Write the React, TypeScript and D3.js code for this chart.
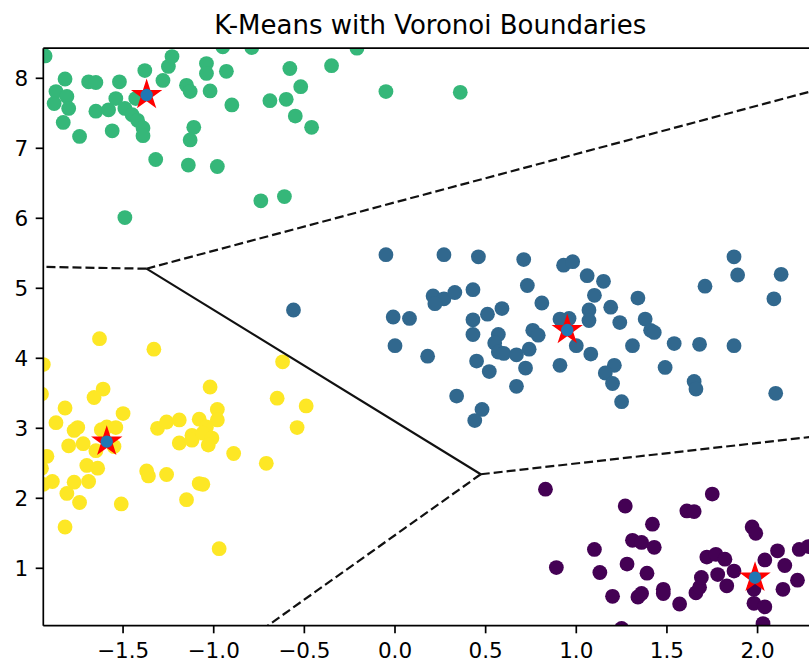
import React from "react";
import * as d3 from "d3";

// ---- Data ----
const clusterColors = ["#440154", "#31688e", "#35b779", "#fde725"];

const cluster0Points: [number, number][] = [
  [0.83, 2.13], [1.27, 1.89], [1.75, 2.06], [1.61, 1.82], [1.65, 1.81], [1.42, 1.63],
  [1.97, 1.59], [1.99, 1.5], [1.31, 1.4], [1.36, 1.37], [1.43, 1.3], [1.1, 1.27],
  [0.89, 1.01], [1.28, 1.06], [1.13, 0.94], [1.39, 0.93], [1.2, 0.6], [1.34, 0.59],
  [1.36, 0.64], [1.48, 0.7], [1.48, 0.64], [1.57, 0.49], [1.66, 0.65], [1.68, 0.73],
  [1.69, 0.87], [1.72, 1.16], [1.77, 1.2], [1.82, 1.13], [1.78, 0.91], [1.83, 0.75],
  [1.87, 0.96], [1.98, 0.7], [1.98, 0.5], [2.04, 0.45], [2.03, 0.21], [2.04, 1.12],
  [2.11, 1.25], [2.15, 1.04], [2.14, 0.7], [2.23, 1.27], [2.22, 0.83], [2.28, 1.31],
  [1.25, 0.14],
];

const cluster1Points: [number, number][] = [
  [-0.05, 5.48], [0.27, 5.48], [0.46, 5.45], [0.71, 5.41], [0.93, 5.33], [0.98, 5.38],
  [1.06, 5.18], [1.15, 5.1], [0.73, 5.04], [0.21, 4.89], [0.27, 4.85], [0.33, 4.94],
  [0.43, 4.98], [0.22, 4.78], [0.81, 4.79], [0.59, 4.71], [0.51, 4.63], [0.43, 4.55],
  [0.43, 4.34], [-0.01, 4.59], [0.08, 4.57], [0.0, 4.18], [0.18, 4.03], [0.57, 4.34],
  [0.55, 4.22], [0.57, 4.09], [0.6, 4.07], [0.67, 4.05], [0.74, 4.13], [0.76, 4.4],
  [0.79, 4.33], [0.45, 3.96], [0.52, 3.81], [0.72, 3.86], [0.67, 3.6], [0.34, 3.46],
  [0.48, 3.27], [0.44, 3.11], [0.91, 4.56], [0.96, 4.57], [1.07, 4.69], [1.07, 4.54],
  [1.1, 4.9], [1.19, 4.73], [1.24, 4.51], [1.34, 4.86], [1.38, 4.56], [1.41, 4.4],
  [1.43, 4.37], [1.0, 4.18], [1.08, 4.06], [0.91, 3.9], [1.31, 4.18], [1.21, 3.9],
  [1.16, 3.79], [1.2, 3.64], [1.25, 3.38], [1.49, 3.87], [1.54, 4.21], [1.68, 4.2],
  [1.65, 3.67], [1.66, 3.56], [1.71, 5.03], [1.87, 5.45], [1.89, 5.19], [1.87, 4.18],
  [2.13, 5.2], [2.09, 4.85], [2.1, 3.5], [-0.56, 4.69],
];

const cluster2Points: [number, number][] = [
  [-1.93, 8.32], [-1.82, 7.99], [-1.87, 7.81], [-1.88, 7.64], [-1.81, 7.74], [-1.8, 7.57],
  [-1.83, 7.37], [-1.74, 7.17], [-1.69, 7.95], [-1.65, 7.94], [-1.65, 7.53], [-1.58, 7.55],
  [-1.56, 7.25], [-1.52, 7.95], [-1.54, 7.71], [-1.49, 7.57], [-1.45, 7.48], [-1.42, 7.4],
  [-1.39, 7.29], [-1.39, 7.18], [-1.43, 7.71], [-1.38, 8.11], [-1.28, 7.97], [-1.25, 8.17],
  [-1.23, 8.31], [-1.32, 6.84], [-1.49, 6.01], [-1.15, 7.9], [-1.13, 7.81], [-1.11, 7.3],
  [-1.13, 7.12], [-1.14, 6.76], [-1.04, 8.21], [-1.04, 8.07], [-1.02, 7.82], [-0.98, 6.74],
  [-0.95, 8.45], [-0.93, 8.1], [-0.9, 7.62], [-0.79, 8.44], [-0.74, 6.25], [-0.69, 7.68],
  [-0.61, 6.31], [-0.6, 7.7], [-0.58, 8.14], [-0.55, 7.46], [-0.52, 7.88], [-0.46, 7.3],
  [-0.35, 8.18], [-0.21, 8.43], [-0.05, 7.81], [0.36, 7.8],
];

const cluster3Points: [number, number][] = [
  [-1.94, 3.91], [-1.95, 3.49], [-1.63, 4.28], [-1.33, 4.13], [-1.61, 3.56], [-1.66, 3.44],
  [-1.82, 3.29], [-1.87, 3.08], [-1.75, 3.01], [-1.77, 2.97], [-1.5, 3.21], [-1.59, 3.02],
  [-1.54, 3.01], [-1.62, 2.98], [-1.8, 2.75], [-1.72, 2.78], [-1.65, 2.68], [-1.55, 2.74],
  [-1.92, 2.6], [-1.95, 2.43], [-1.7, 2.47], [-1.64, 2.43], [-1.89, 2.24], [-1.94, 2.2],
  [-1.77, 2.23], [-1.69, 2.24], [-1.81, 2.07], [-1.74, 1.94], [-1.51, 1.92], [-1.82, 1.59],
  [-1.31, 3.0], [-1.26, 3.09], [-1.19, 3.12], [-1.19, 2.79], [-1.12, 2.9], [-1.12, 2.83],
  [-1.08, 3.13], [-1.02, 3.59], [-0.98, 3.27], [-0.98, 3.12], [-1.04, 3.02], [-1.06, 2.93],
  [-1.01, 2.86], [-1.03, 2.76], [-0.89, 2.64], [-1.37, 2.39], [-1.36, 2.32], [-1.26, 2.34],
  [-1.15, 1.98], [-1.08, 2.21], [-1.06, 2.2], [-0.97, 1.28], [-0.71, 2.5], [-0.65, 3.43],
  [-0.62, 3.95], [-0.49, 3.32], [-0.54, 3.01],
];

const clusters = [cluster0Points, cluster1Points, cluster2Points, cluster3Points];

// K-Means centroids (label order 0..3)
const centroids: [number, number][] = [
  [1.986, 0.866],
  [0.95, 4.404],
  [-1.37, 7.761],
  [-1.59, 2.809],
];

const xDomain = [-1.94, 2.33];
const yDomain = [0.18, 8.43];
const xTickValues = [-1.5, -1.0, -0.5, 0.0, 0.5, 1.0, 1.5, 2.0];
const yTickValues = [1, 2, 3, 4, 5, 6, 7, 8];
const titleText = "K-Means with Voronoi Boundaries";

// ---- Layout ----
const W = 809;
const H = 665;
const plotLeft = 43.3;
const plotRight = 817.4;
const plotTop = 48.2;
const plotBottom = 625.7;
const FONT = "'DejaVu Sans', sans-serif";

function computeVoronoiSegments(pts: [number, number][]) {
  const delaunay = d3.Delaunay.from(pts);
  const vor = delaunay.voronoi([-100, -100, 100, 100]);
  const cc = vor.circumcenters;
  const { triangles, halfedges } = delaunay;
  const cx = d3.mean(pts, (p) => p[0]) as number;
  const cy = d3.mean(pts, (p) => p[1]) as number;
  const ptpX = (d3.max(pts, (p) => p[0]) as number) - (d3.min(pts, (p) => p[0]) as number);
  const ptpY = (d3.max(pts, (p) => p[1]) as number) - (d3.min(pts, (p) => p[1]) as number);
  const farLen = Math.max(ptpX, ptpY);
  const solid: [number, number][][] = [];
  const dashed: [number, number][][] = [];
  for (let e = 0; e < halfedges.length; e++) {
    const t = Math.floor(e / 3);
    const c: [number, number] = [cc[2 * t], cc[2 * t + 1]];
    const o = halfedges[e];
    if (o > e) {
      const t2 = Math.floor(o / 3);
      solid.push([c, [cc[2 * t2], cc[2 * t2 + 1]]]);
    } else if (o === -1) {
      const a = pts[triangles[e]];
      const b = pts[triangles[e % 3 === 2 ? e - 2 : e + 1]];
      let tx = b[0] - a[0];
      let ty = b[1] - a[1];
      const n = Math.hypot(tx, ty);
      tx /= n;
      ty /= n;
      const nx = -ty;
      const ny = tx;
      const mx = (a[0] + b[0]) / 2;
      const my = (a[1] + b[1]) / 2;
      const s = Math.sign((mx - cx) * nx + (my - cy) * ny) || 1;
      dashed.push([c, [c[0] + s * nx * farLen, c[1] + s * ny * farLen]]);
    }
  }
  return { solid, dashed };
}

export default function App() {
  const x = d3.scaleLinear().domain(xDomain).range([plotLeft, plotRight]);
  const y = d3.scaleLinear().domain(yDomain).range([plotBottom, plotTop]);
  const { solid, dashed } = computeVoronoiSegments(centroids);
  const line = d3
    .line<[number, number]>()
    .x((d) => x(d[0]))
    .y((d) => y(d[1]));
  const xFmt = d3.format(".1f");
  const starPath = d3.symbol().type(d3.symbolStar).size(305)() as string;
  const dotR = 7.4;

  return (
    <svg
      width={W}
      height={H}
      style={{ position: "absolute", left: 0, top: 0, background: "#fff" }}
      fontFamily={FONT}
    >
      <defs>
        <clipPath id="plotClip">
          <rect x={plotLeft} y={plotTop} width={plotRight - plotLeft} height={plotBottom - plotTop} />
        </clipPath>
      </defs>
      <rect x={0} y={0} width={W} height={H} fill="#fff" />
      <g clipPath="url(#plotClip)">
        {clusters.map((pts, ci) =>
          pts.map((p, i) => (
            <circle key={`${ci}-${i}`} cx={x(p[0])} cy={y(p[1])} r={dotR} fill={clusterColors[ci]} />
          ))
        )}
        {solid.map((seg, i) => (
          <path key={`s${i}`} d={line(seg) as string} stroke="#111" strokeWidth={2.1} fill="none" />
        ))}
        {dashed.map((seg, i) => (
          <path
            key={`d${i}`}
            d={line(seg) as string}
            stroke="#111"
            strokeWidth={2.2}
            strokeDasharray="9,4"
            fill="none"
          />
        ))}
        {centroids.map((c, i) => (
          <g key={`c${i}`} transform={`translate(${x(c[0])},${y(c[1])})`}>
            <path d={starPath} fill="#ff0000" />
            <circle r={6.2} fill="#1f77b4" />
          </g>
        ))}
      </g>
      {/* spines */}
      <g stroke="#000" strokeWidth={1.7} fill="none">
        <line x1={plotLeft} x2={plotLeft} y1={plotTop} y2={plotBottom} />
        <line x1={plotLeft} x2={plotRight} y1={plotBottom} y2={plotBottom} />
        <line x1={plotLeft} x2={plotRight} y1={plotTop} y2={plotTop} />
        <line x1={plotRight} x2={plotRight} y1={plotTop} y2={plotBottom} />
      </g>
      {/* x ticks */}
      {xTickValues.map((v) => (
        <g key={`xt${v}`} transform={`translate(${x(v)},${plotBottom})`}>
          <line y1={0} y2={7.6} stroke="#000" strokeWidth={1.7} />
          <text y={32} textAnchor="middle" fontSize={21.5} fill="#000">
            {xFmt(v)}
          </text>
        </g>
      ))}
      {/* y ticks */}
      {yTickValues.map((v) => (
        <g key={`yt${v}`} transform={`translate(${plotLeft},${y(v)})`}>
          <line x1={0} x2={-7.6} stroke="#000" strokeWidth={1.7} />
          <text x={-15} y={7.8} textAnchor="end" fontSize={21.5} fill="#000">
            {String(v)}
          </text>
        </g>
      ))}
      <text
        x={(plotLeft + plotRight) / 2}
        y={33.5}
        textAnchor="middle"
        fontSize={26}
        fill="#000"
      >
        {titleText}
      </text>
    </svg>
  );
}
